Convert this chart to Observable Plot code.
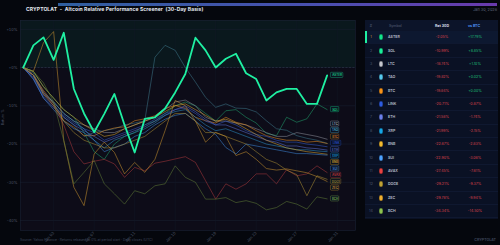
<!DOCTYPE html>
<html><head><meta charset="utf-8">
<script src="https://cdn.jsdelivr.net/npm/d3@7"></script>
<script src="https://cdn.jsdelivr.net/npm/@observablehq/plot@0.6"></script>
<style>
html,body{margin:0;padding:0;background:#05070d;width:500px;height:245px;overflow:hidden;font-family:Inter,"DejaVu Sans",sans-serif;}
#root{position:relative;width:500px;height:245px;}
.abs{position:absolute;white-space:nowrap;}
#bar{left:58px;top:3px;width:439px;height:3px;background:linear-gradient(90deg,#2f5f9f,#4a4fb0 60%,#6a3aac);}
#title{left:26px;top:6px;font-size:5px;font-weight:700;color:#e6eaf2;letter-spacing:0.1px;}
#date{right:3px;top:7px;font-size:3.8px;color:#5d6579;}
#ylab{left:3px;top:125px;font-size:3.6px;color:#4c5468;transform:translate(0,-50%) rotate(-90deg);transform-origin:left center;}
#caption{left:20px;top:238px;font-size:3.4px;color:#3e465a;}
#brand{right:4px;top:238px;font-size:3.6px;color:#3a4256;font-weight:700;}
#tbl{left:365px;top:20px;width:133px;height:199px;background:#0a1124;}
.hdr{position:absolute;left:0;top:0;width:133px;height:11px;background:#0c1429;border-bottom:1px solid #18213a;}
.row{position:absolute;left:0;width:133px;border-bottom:1px solid #0f1830;}
.cell{position:absolute;top:50%;transform:translateY(-50%);font-size:3.6px;white-space:nowrap;}
.c{transform:translate(-50%,-50%);}
.icon{position:absolute;top:50%;width:4px;height:6px;border-radius:50%;transform:translate(-50%,-50%);}
</style></head><body><div id="root">
<div id="bar" class="abs"></div>
<div id="title" class="abs">CRYPTOLAT&nbsp; - &nbsp;Altcoin Relative Performance Screener&nbsp; (30-Day Basis)</div>
<div id="date" class="abs">Jan 30, 2026</div>
<div id="ylab" class="abs">Return %</div>
<div id="chart" class="abs" style="left:0;top:0;"></div>
<div id="caption" class="abs">Source: Yahoo Finance · Returns rebased to 0% at period start · Daily closes (UTC)</div>
<div id="brand" class="abs">CRYPTOLAT</div>
<div id="tbl" class="abs"></div>
</div>
<script>
// ---------- data ----------
const symbols   = ["ASTER","SOL","LTC","TAO","BTC","LINK","ETH","XRP","BNB","SUI","AVAX","DOGE","ZEC","BCH"];
const ret30     = [-2.05,-10.99,-18.74,-19.82,-19.84,-20.71,-21.58,-21.99,-22.67,-22.90,-27.45,-29.21,-29.78,-34.34];
const vsBtc     = [17.79,8.85,1.10,0.02,0.00,-0.87,-1.74,-2.15,-2.83,-3.06,-7.61,-9.37,-9.94,-14.50];
const iconColors= ["#12e28c","#19ef9a","#c4c7cf","#56c8ee","#f7931a","#2d5be0","#6a7fea","#16a6e6","#f3ba2f","#4da2ff","#e84142","#bfa235","#f0b030","#8cc450"];
const lineColors= ["#1ff0a2","#1f9e6c","#8c8f99","#3d7688","#e38a22","#3458c8","#5a6fd0","#2b8fc4","#d6a430","#3d86d8","#a8383c","#a88d33","#c8922e","#5f7a36"];
const startDate = "2025-12-31";
const tickLabels= ["Jan 03","Jan 07","Jan 11","Jan 15","Jan 19","Jan 23","Jan 27","Jan 31"];
const tickDays  = [3,7,11,15,19,23,27,31];
const yTicks    = [10,0,-10,-20,-30,-40];

const ASTER = [0,5.8,7.9,2.0,9.1,-5.6,-12,-16.9,-12.1,-6.9,-15,-22.2,-13.4,-13,-10.7,-6.5,-1.7,7.8,4.5,0,2.3,3.6,-1.5,-3.0,-8.6,-6.5,-5.6,-5.6,-9.5,-9.5,-2.05];
const SOL   = [0,-1,-5,-8,-11,-13,-17,-22,-24,-20,-18,-17,-15,-14,-12,-10,-9,-10,-12,-14,-11.3,-11,-13,-14.5,-17.2,-17.8,-13,-14.3,-13.4,-9.5,-10.99];
const LTC   = [0,-2,-7,-9,-12,-14,-15,-16,-17,-17,-16,-15,-14,-13,-11,-9,-8.5,-10,-13,-14,-14,-14.5,-15,-16,-17,-18,-18,-17,-17.5,-18,-18.74];
const TAO   = [0,-1.5,-6.5,-9.5,-13,-15,-18,-17,-16.5,-16,-15,-14.5,-13.9,2.7,5.8,4.5,0,-3.8,-7.8,-10.4,-9.5,-10.6,-10.7,-11.6,-13.9,-16,-16.4,-17.8,-18.5,-19,-19.82];
const BTC   = [0,-2,-6,-9.4,-13.9,-15.6,-17.8,-17.8,-16.5,-15.8,-15.5,-13.9,-13.4,-12.6,-10.7,-9.9,-10.7,-13,-13.9,-14.5,-13,-14.3,-15,-16.5,-17.8,-18.5,-19,-19,-19.5,-19.3,-19.84];
const LINK  = [0,-2.5,-7.5,-10,-12.5,-14.5,-16,-17,-19,-18,-17,-16,-15,-13.5,-12,-11,-10.5,-12,-14,-15,-14,-15,-16.5,-17.5,-18,-19,-19.5,-19.5,-20,-20.3,-20.71];
const ETH   = [0,-3,-8,-10.5,-13,-15,-16.5,-18,-19.5,-18.5,-17.5,-16.5,-15.5,-14,-12.5,-11,-10,-11.5,-13.5,-15,-15,-16,-17,-18,-19,-19.5,-20.5,-20.5,-21,-21.2,-21.58];
const XRP   = [0,-2,-6.5,-9,-12,-14,-16,-19,-21,-19,-18,-17,-16,-14.5,-12.5,-11.5,-11,-13,-15,-16.5,-16,-17,-18,-19,-20,-20.5,-21,-21.5,-21.5,-21.8,-21.99];
const BNB   = [0,-1,-5,-8,-11,-13,-15,-16.5,-18,-17.5,-16,-15,-14,-13,-11.5,-10,-9.5,-11,-12.5,-14,-13.5,-14.5,-16,-17.5,-19,-20,-21,-21.5,-22,-22.3,-22.67];
const SUI   = [0,-3,-8,-11,-14,-16,-17,-19,-22,-20.9,-20,-18,-17,-15,-13.5,-12.5,-12,-14,-16,-17.5,-20.9,-22.6,-20,-20.5,-21,-21.5,-22,-22.5,-22.5,-22.7,-22.90];
const AVAX  = [0,-2,-6.5,-10,-15,-22,-25.2,-24.5,-24,-25.2,-28.7,-26.1,-27,-25,-24.5,-23.9,-23.3,-24.8,-29.6,-34.4,-30.4,-31.8,-30.4,-27.8,-27.8,-30.4,-26.7,-28.3,-27.8,-25.7,-27.45];
const DOGE  = [0,-2,-7,-10,-14,-17,-19,-20,-21,-21,-20,-19,-18,-16,-14,-12,-12,-14,-17,-17,-18,-19,-20,-22,-24,-25,-26.8,-28,-33.5,-28.3,-29.21];
const ZEC   = [0,-1,6.5,9.4,-19,-31.3,-36.1,-22.6,-19.5,-22.2,-27.8,-24.8,-27.4,-24,-16.5,-8.6,-10,-14,-19.5,-17,-18,-23,-22,-24,-26.4,-26.8,-26.5,-27,-27.5,-28.5,-29.78];
const BCH   = [0,-1,-4,-9,-19.1,-30.4,-27.4,-24.3,-30.4,-33,-35.7,-32.2,-33,-30.9,-30.4,-25.7,-28.7,-30,-34.4,-34.4,-34,-35.3,-34.8,-35.5,-37.2,-36.6,-35,-35.7,-37,-33.8,-34.34];

const seriesArrays = {ASTER,SOL,LTC,TAO,BTC,LINK,ETH,XRP,BNB,SUI,AVAX,DOGE,ZEC,BCH};

// ---------- build ----------
const DAY = 864e5;
const t0 = new Date(startDate + "T00:00:00Z").getTime();
const dateAt = k => new Date(t0 + k * DAY);
const nPts = ASTER.length;
const lastDate = dateAt(nPts - 1);

const long = [];
symbols.forEach((s, si) => {
  seriesArrays[s].forEach((v, k) => long.push({symbol: s, date: dateAt(k), value: v, color: lineColors[si]}));
});

const W = 360, H = 245, mT = 20, mB = 15, mL = 20, mR = 5;
const yDomain = [-42.6, 12.3];
const xDomain = [dateAt(-0.27), dateAt(32.8)];
const pxPerUnit = (H - mT - mB) / (yDomain[1] - yDomain[0]);

// dodge end labels (least-squares cluster placement)
const gapPx = 6.4;
const targets = symbols.map((s, i) => ({symbol: s, i, t: (yDomain[1] - ret30[i]) * pxPerUnit}));
targets.sort((a, b) => a.t - b.t);
let clusters = targets.map(d => ({items: [d], start: d.t}));
function place(c) { c.start = d3.mean(c.items, (d, j) => d.t - j * gapPx); }
let merged = true;
while (merged) {
  merged = false;
  for (let i = 0; i < clusters.length - 1; i++) {
    const a = clusters[i], b = clusters[i + 1];
    const aEnd = a.start + (a.items.length - 1) * gapPx;
    if (b.start - aEnd < gapPx) {
      const c = {items: a.items.concat(b.items)};
      place(c);
      clusters.splice(i, 2, c);
      merged = true;
      break;
    }
  }
}
const labels = [];
clusters.forEach(c => c.items.forEach((d, j) => {
  const ypx = c.start + j * gapPx;
  const yv = yDomain[1] - ypx / pxPerUnit;
  const wpx = 2.2 + d.symbol.length * 2.05;
  labels.push({
    symbol: d.symbol, color: d.symbol === "ASTER" ? "#1ff0a2" : iconColors[d.i],
    yv, y1: yv - 2.6 / pxPerUnit, y2: yv + 2.6 / pxPerUnit,
    x1: new Date(lastDate.getTime() + (3.8 / 10.15) * DAY),
    x2: new Date(lastDate.getTime() + ((3.8 + wpx) / 10.15) * DAY),
    xm: new Date(lastDate.getTime() + ((3.8 + wpx / 2) / 10.15) * DAY)
  });
}));

const tickDates = tickDays.map(dateAt);
const fmtTick = d => tickLabels[tickDates.findIndex(t => +t === +d)];
const fmtY = v => (v >= 0 ? "+" : "") + v + "%";

const others = long.filter(d => d.symbol !== "ASTER");
const aster = long.filter(d => d.symbol === "ASTER");

const chart = Plot.plot({
  width: W, height: H, marginTop: mT, marginBottom: mB, marginLeft: mL, marginRight: mR,
  style: {background: "transparent", overflow: "visible", fontFamily: "Inter, DejaVu Sans, sans-serif"},
  x: {type: "utc", domain: xDomain},
  y: {domain: yDomain},
  marks: [
    Plot.frame({fill: "#0d0c18"}),
    Plot.rect([0], {y1: () => 0, y2: () => yDomain[1], fill: "#0a181d"}),
    Plot.gridY(yTicks, {stroke: "#181f2f", strokeOpacity: 1, strokeWidth: 0.6}),
    Plot.gridX(tickDates, {stroke: "#131927", strokeOpacity: 1, strokeWidth: 0.5}),
    Plot.ruleY([0], {stroke: "#2f3a4f", strokeDasharray: "2,1.5", strokeWidth: 0.6}),
    Plot.text(["CRYPTOLAT"], {frameAnchor: "middle", dx: -10, dy: -10, fontSize: 22, fontWeight: 700, fill: "#ffffff", fillOpacity: 0.025}),
    Plot.frame({stroke: "#1a2234", strokeWidth: 0.6}),
    Plot.line(others, {x: "date", y: "value", z: "symbol", stroke: "color", strokeWidth: 0.75, strokeOpacity: 0.72}),
    Plot.line(aster, {x: "date", y: "value", stroke: "#1ff0a2", strokeWidth: 1.8}),
    Plot.rect(labels, {x1: "x1", x2: "x2", y1: "y1", y2: "y2", fill: "#0b1220", stroke: "color", strokeWidth: 0.5, strokeOpacity: 0.6, rx: 0.8}),
    Plot.text(labels, {x: "xm", y: "yv", text: "symbol", fill: "color", fillOpacity: 0.85, fontSize: 3.0, fontWeight: 600}),
    Plot.axisY(yTicks, {tickSize: 0, tickPadding: 3, tickFormat: fmtY, fontSize: 3.8, fill: "#4f5769", label: null}),
    Plot.axisX(tickDates, {tickSize: 0, tickPadding: 2, tickRotate: -45, tickFormat: fmtTick, fontSize: 3.8, fill: "#4f5769", label: null})
  ]
});
document.getElementById("chart").appendChild(chart);

// ---------- table ----------
const tbl = document.getElementById("tbl");
const hdr = document.createElement("div");
hdr.className = "hdr";
hdr.innerHTML =
  `<span class="cell c" style="left:6px;color:#5a6379">#</span>` +
  `<span class="cell" style="left:24px;color:#5a6379">Symbol</span>` +
  `<span class="cell c" style="left:77px;color:#d8dce6;font-weight:700">Ret 30D</span>` +
  `<span class="cell c" style="left:109px;color:#4d8ef0;font-weight:700">vs BTC</span>`;
tbl.appendChild(hdr);
const rowH = 13.38;
symbols.forEach((s, i) => {
  const r = document.createElement("div");
  r.className = "row";
  r.style.top = (11 + i * rowH) + "px";
  r.style.height = (rowH - 1) + "px";
  if (i === 0) r.style.background = "#0d1830";
  const vs = vsBtc[i];
  const vsTxt = (vs >= 0 ? "+" : "") + vs.toFixed(2) + "%";
  r.innerHTML =
    (i === 0 ? `<div style="position:absolute;left:0;top:0;width:1.5px;height:100%;background:#1ff0a2"></div>` : "") +
    `<span class="cell c" style="left:6px;color:${i === 0 ? "#d39a34" : "#4e576c"}">${i + 1}</span>` +
    `<div class="icon" style="left:16px;background:${iconColors[i]};box-shadow:0 0 0 0.5px rgba(0,0,0,0.4) inset"></div>` +
    `<span class="cell" style="left:23px;color:#b9bfcc;font-weight:600">${s}</span>` +
    `<span class="cell c" style="left:77px;color:#d9434b">${ret30[i].toFixed(2)}%</span>` +
    `<span class="cell c" style="left:110px;color:${vs >= 0 ? "#1fbf78" : "#d9434b"}">${vsTxt}</span>`;
  tbl.appendChild(r);
});
</script>
</body></html>
